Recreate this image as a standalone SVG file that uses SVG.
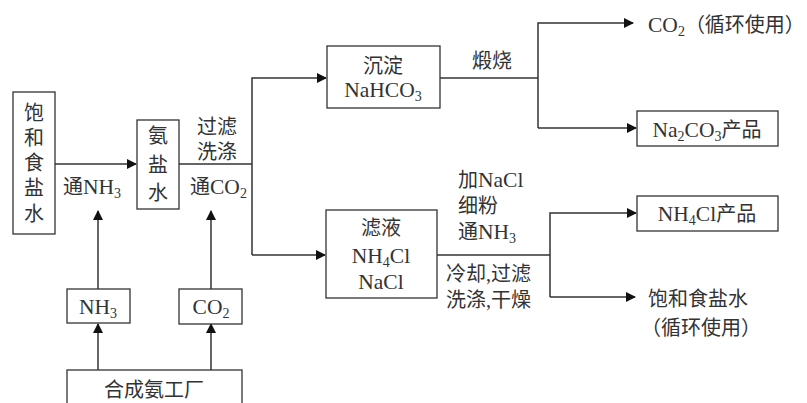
<svg xmlns="http://www.w3.org/2000/svg" width="807" height="403" viewBox="0 0 807 403">
<defs>
<style>
text{font-family:"Liberation Serif","Noto Sans CJK SC",serif;font-size:20px;fill:#333}
.m{text-anchor:middle}
.l{font-size:21.5px}
.box{fill:#fff;stroke:#333;stroke-width:1.3}
.ln{fill:none;stroke:#333;stroke-width:1.5}
.sub{font-size:14px}
</style>
<marker id="ah" viewBox="0 0 10 10" refX="9" refY="5" markerWidth="10" markerHeight="10" markerUnits="userSpaceOnUse" orient="auto">
<path d="M0,0 L10,5 L0,10 Z" fill="#111"/>
</marker>
</defs>
<rect width="807" height="403" fill="#fff"/>
<g id="connectors">
<path class="ln" d="M55,164 H136" marker-end="url(#ah)"/>
<path class="ln" d="M179,164 H252"/>
<path class="ln" d="M252,255 V78 H326" marker-end="url(#ah)"/>
<path class="ln" d="M252,255 H325" marker-end="url(#ah)"/>
<path class="ln" d="M440,78 H538"/>
<path class="ln" d="M538,128 V23 H633" marker-end="url(#ah)"/>
<path class="ln" d="M538,128 H636" marker-end="url(#ah)"/>
<path class="ln" d="M437,255 H550"/>
<path class="ln" d="M550,297 V213 H636" marker-end="url(#ah)"/>
<path class="ln" d="M550,297 H635" marker-end="url(#ah)"/>
<path class="ln" d="M98,289 V211" marker-end="url(#ah)"/>
<path class="ln" d="M211,289 V211" marker-end="url(#ah)"/>
<path class="ln" d="M98,370 V324" marker-end="url(#ah)"/>
<path class="ln" d="M211,370 V324" marker-end="url(#ah)"/>
</g>
<g id="labels">
<text x="63" y="194">通<tspan class="l">NH</tspan><tspan class="sub" dy="4">3</tspan></text>
<text x="197" y="134">过滤</text>
<text x="197" y="159">洗涤</text>
<text x="190" y="194">通<tspan class="l">CO</tspan><tspan class="sub" dy="4">2</tspan></text>
<text x="472" y="68">煅烧</text>
<text x="458" y="187">加<tspan class="l">NaCl</tspan></text>
<text x="458" y="213">细粉</text>
<text x="458" y="239">通<tspan class="l">NH</tspan><tspan class="sub" dy="4">3</tspan></text>
<text x="446" y="281">冷却,过滤</text>
<text x="446" y="307">洗涤,干燥</text>
</g>
<g id="brine">
<rect class="box" x="13" y="92" width="42" height="142"/>
<text class="m" x="34" y="120">饱</text>
<text class="m" x="34" y="145">和</text>
<text class="m" x="34" y="170">食</text>
<text class="m" x="34" y="195">盐</text>
<text class="m" x="34" y="221">水</text>
</g>
<g id="ammonia-brine">
<rect class="box" x="137" y="120" width="42" height="89"/>
<text class="m" x="158" y="143">氨</text>
<text class="m" x="158" y="172">盐</text>
<text class="m" x="158" y="200">水</text>
</g>
<g id="precipitate">
<rect class="box" x="327" y="46" width="113" height="62"/>
<text class="m" x="383" y="73">沉淀</text>
<text class="m l" x="383" y="97">NaHCO<tspan class="sub" dy="4">3</tspan></text>
</g>
<g id="co2-recycle">
<text x="648" y="32"><tspan class="l">CO</tspan><tspan class="sub" dy="4">2</tspan><tspan dy="-4">（循环使用）</tspan></text>
</g>
<g id="na2co3">
<rect class="box" x="637" y="111" width="141" height="35"/>
<text class="m" x="707" y="137"><tspan class="l">Na</tspan><tspan class="sub" dy="4">2</tspan><tspan class="l" dy="-4">CO</tspan><tspan class="sub" dy="4">3</tspan><tspan dy="-4">产品</tspan></text>
</g>
<g id="filtrate">
<rect class="box" x="326" y="210" width="111" height="88"/>
<text class="m" x="381" y="235">滤液</text>
<text class="m l" x="381" y="263">NH<tspan class="sub" dy="4">4</tspan><tspan dy="-4">Cl</tspan></text>
<text class="m l" x="381" y="289">NaCl</text>
</g>
<g id="nh4cl">
<rect class="box" x="637" y="196" width="141" height="35"/>
<text class="m" x="707" y="221"><tspan class="l">NH</tspan><tspan class="sub" dy="4">4</tspan><tspan class="l" dy="-4">Cl</tspan><tspan>产品</tspan></text>
</g>
<g id="brine-recycle">
<text x="648" y="306">饱和食盐水</text>
<text x="641" y="335">（循环使用）</text>
</g>
<g id="nh3">
<rect class="box" x="67" y="289" width="63" height="34"/>
<text class="m l" x="98" y="314">NH<tspan class="sub" dy="4">3</tspan></text>
</g>
<g id="co2">
<rect class="box" x="179" y="289" width="63" height="35"/>
<text class="m l" x="211" y="314">CO<tspan class="sub" dy="4">2</tspan></text>
</g>
<g id="factory">
<rect class="box" x="67" y="370" width="175" height="40"/>
<text class="m" x="154" y="397">合成氨工厂</text>
</g>
</svg>
